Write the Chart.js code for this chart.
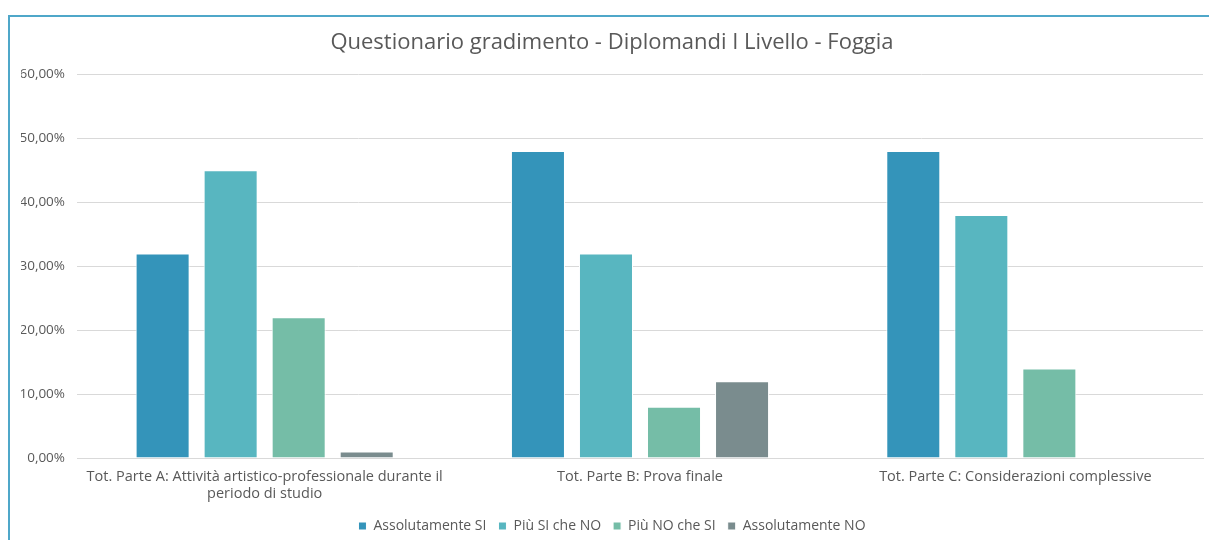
<!DOCTYPE html>
<html>
<head>
<meta charset="utf-8">
<script src="https://cdn.jsdelivr.net/npm/chart.js@4.4.1/dist/chart.umd.min.js"></script>
<style>
    body{margin:0;background:#fff;overflow:hidden;}
    #frame{position:absolute;left:8px;top:15px;width:1300px;height:600px;border-left:2px solid #4FA7C9;border-top:2px solid #4FA7C9;}
    #wrap{position:absolute;left:0;top:0;width:1209px;height:540px;}
</style>
</head>
<body>
<div id="frame"></div>
<div id="wrap"><canvas id="myBarChart"></canvas></div>
<script>
const categories = [
    ['Tot. Parte A: Attività artistico-professionale durante il', 'periodo di studio'],
    'Tot. Parte B: Prova finale',
    'Tot. Parte C: Considerazioni complessive'
];
const seriesNames = ['Assolutamente SI', 'Più SI che NO', 'Più NO che SI', 'Assolutamente NO'];
const assolutamenteSi = [32, 48, 48];
const piuSiCheNo = [45, 32, 38];
const piuNoCheSi = [22, 8, 14];
const assolutamenteNo = [1, 12, 0];
const yTicks = [0, 10, 20, 30, 40, 50, 60];

const colors = ['#3494BA', '#58B6C0', '#75BDA7', '#7A8C8E'];
const seriesValues = [assolutamenteSi, piuSiCheNo, piuNoCheSi, assolutamenteNo];

const loadChart =()=>{
    const ctx = document.getElementById('myBarChart').getContext('2d');
    const font = "Open Sans";

    const data = {
        labels: categories,
        datasets: seriesNames.map((name, i) => ({
            label: name,
            data: seriesValues[i],
            backgroundColor: colors[i],
            borderColor: '#ffffff',
            borderWidth: 1,
            categoryPercentage: 0.725,
            barPercentage: 0.794
        }))
    };

    const config = {
        type: 'bar',
        data: data,
        options: {
            responsive: true,
            maintainAspectRatio: false,
            animation: false,
            layout: {
                padding: {top: 18, left: 21, right: 6, bottom: -3}
            },
            plugins: {
                title: {
                    display: true,
                    text: 'Questionario gradimento - Diplomandi I Livello - Foggia',
                    color: '#595959',
                    font: {family: font, size: 22, weight: 'normal'},
                    padding: {top: 12, bottom: 18}
                },
                legend: {
                    position: 'bottom',
                    labels: {
                        color: '#595959',
                        font: {family: font, size: 14},
                        boxWidth: 8,
                        boxHeight: 8,
                        padding: 12
                    }
                },
                tooltip: {enabled: false}
            },
            scales: {
                x: {
                    grid: {display: false},
                    border: {display: true, color: '#D9D9D9', width: 1},
                    ticks: {
                        color: '#595959',
                        font: {family: font, size: 14.5, lineHeight: 1.17},
                        padding: 2,
                        maxRotation: 0,
                        autoSkip: false
                    },
                    afterFit: (scale) => { scale.height = 49; }
                },
                y: {
                    min: 0,
                    max: 60,
                    afterBuildTicks: (scale) => { scale.ticks = yTicks.map(v => ({value: v})); },
                    grid: {color: '#D9D9D9', drawTicks: false},
                    border: {display: false},
                    ticks: {
                        color: '#595959',
                        font: {family: font, size: 13.5},
                        padding: 12,
                        callback: (v) => v.toFixed(2).replace('.', ',') + '%'
                    },
                    afterFit: (scale) => { scale.width = 56; }
                }
            }
        }
    };

    const myBarChart = new Chart(ctx, config);
}

loadChart();
</script>
</body>
</html>
